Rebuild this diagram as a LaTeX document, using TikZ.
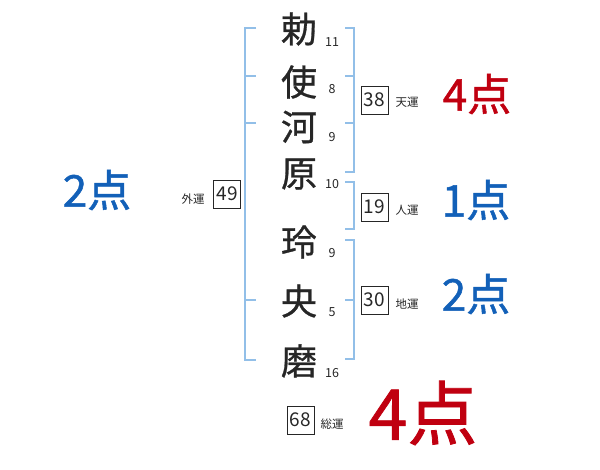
\documentclass[tikz,border=0pt]{standalone}
\usepackage{fontspec}
\setmainfont{Noto Sans CJK JP}
\newfontfamily\jpbold[FakeBold=1.1]{Noto Sans CJK JP}
\newfontfamily\jpmed[FakeBold=0.8]{Noto Sans CJK JP}
\definecolor{brk}{HTML}{92BFE8}
\definecolor{redpt}{HTML}{C00010}
\definecolor{bluept}{HTML}{1260B8}
\definecolor{ink}{HTML}{262626}
\tikzset{
  namechar/.style={font=\jpmed\fontsize{36}{36}\selectfont, text=ink, inner sep=0pt},
  strokes/.style={font=\fontsize{12.5}{12.5}\selectfont, text=ink, inner sep=0pt},
  scorebox/.style={draw=ink, line width=0.9pt, minimum width=27pt, minimum height=28pt, inner sep=0pt, font=\fontsize{19}{19}\selectfont, text=ink},
  unsei/.style={font=\fontsize{11.5}{11.5}\selectfont, text=ink, inner sep=0pt},
  ptred/.style={font=\jpbold\fontsize{44}{44}\selectfont, text=redpt, inner sep=0pt},
  ptblue/.style={font=\jpbold\fontsize{44}{44}\selectfont, text=bluept, inner sep=0pt},
  bracket/.style={draw=brk, line width=2pt},
}
\begin{document}
\begin{tikzpicture}[x=1pt,y=-1pt]
\useasboundingbox (0,0) rectangle (600,470);
% brackets
\draw[bracket] (256,28) -- (245,28) -- (245,360) -- (256,360);
\foreach \yy in {76,123,300} \draw[bracket] (245,\yy) -- (256,\yy);
\draw[bracket] (345,28) -- (354,28) -- (354,172) -- (345,172);
\foreach \yy in {76,123} \draw[bracket] (345,\yy) -- (354,\yy);
\draw[bracket] (345,182) -- (354,182) -- (354,229) -- (345,229);
\draw[bracket] (345,240) -- (354,240) -- (354,359) -- (345,359);
\draw[bracket] (345,300) -- (354,300);
% name characters
\node[namechar] (c1) at (299,29) {勅};
\node[namechar] (c2) at (299,82) {使};
\node[namechar] (c3) at (299,127) {河};
\node[namechar] (c4) at (299,174) {原};
\node[namechar] (c5) at (299,242) {玲};
\node[namechar] (c6) at (299,301) {央};
\node[namechar] (c7) at (299,361) {磨};
% stroke counts
\node[strokes] (s1) at (332,42) {11};
\node[strokes] (s2) at (332,89) {8};
\node[strokes] (s3) at (332,137) {9};
\node[strokes] (s4) at (332,184) {10};
\node[strokes] (s5) at (332,253) {9};
\node[strokes] (s6) at (332,312) {5};
\node[strokes] (s7) at (332,373) {16};
% boxes and labels
\node[scorebox] (ten) at (374.5,100) {38};
\node[unsei] (tenl) at (407,102) {天運};
\node[scorebox] (jin) at (374.5,207) {19};
\node[unsei] (jinl) at (407,210) {人運};
\node[scorebox] (chi) at (374.5,300) {30};
\node[unsei] (chil) at (407,304) {地運};
\node[scorebox] (gai) at (227,194) {49};
\node[unsei] (gail) at (193,199) {外運};
\node[scorebox] (sou) at (300.5,420) {68};
\node[unsei] (soul) at (332,424) {総運};
% points
\node[ptred] (p1) at (477,94) {4点};
\node[ptblue] (p2) at (476,200) {1点};
\node[ptblue] (p3) at (476,294) {2点};
\node[ptblue] (p4) at (97,190) {2点};
\node[ptred, font=\jpbold\fontsize{70}{70}\selectfont] (p5) at (423,413) {4点};
\end{tikzpicture}
\end{document}
